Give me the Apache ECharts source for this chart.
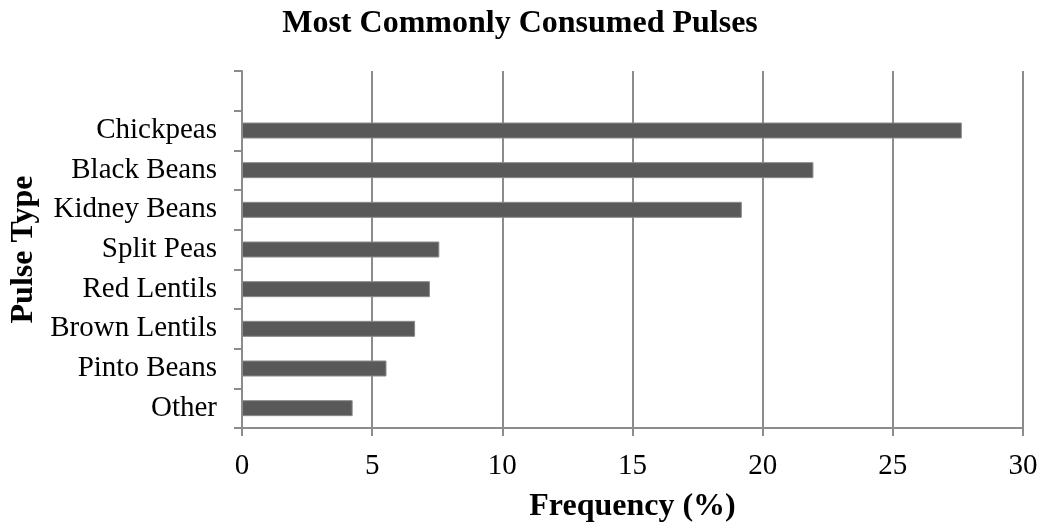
<!DOCTYPE html>
<html><head><meta charset="utf-8">
<script src="https://cdn.jsdelivr.net/npm/echarts@6/dist/echarts.min.js"></script>
<style>html,body{margin:0;padding:0;background:#fff}#c{width:1044px;height:527px}</style>
</head><body><div id="c"></div>
<script>
const categories = ['Other', 'Pinto Beans', 'Brown Lentils', 'Red Lentils', 'Split Peas', 'Kidney Beans', 'Black Beans', 'Chickpeas', ''];
const frequency = [4.25, 5.55, 6.65, 7.22, 7.58, 19.2, 21.95, 27.65, '-'];
const xTicks = [0, 5, 10, 15, 20, 25, 30];

const font = '"Liberation Serif", "Times New Roman", serif';
const chart = echarts.init(document.getElementById('c'));
chart.setOption({
  animation: false,
  title: {
    text: 'Most Commonly Consumed Pulses',
    left: 515, top: 3, textAlign: 'center',
    textStyle: { fontFamily: font, fontWeight: 'bold', fontSize: 32, color: '#000' }
  },
  grid: { left: 242, right: 21, top: 71, bottom: 99, containLabel: false, outerBoundsMode: 'none' },
  xAxis: {
    type: 'value', min: xTicks[0], max: xTicks[xTicks.length - 1], interval: 5,
    name: 'Frequency (%)', nameLocation: 'middle', nameGap: 63,
    nameTextStyle: { fontFamily: font, fontWeight: 'bold', fontSize: 32, color: '#000' },
    axisLine: { show: true, lineStyle: { color: '#8c8c8c', width: 2 } },
    axisTick: { show: true, length: 8, lineStyle: { color: '#8c8c8c', width: 2 } },
    axisLabel: { fontFamily: font, fontSize: 29, color: '#000', margin: 24 },
    splitLine: { show: true, lineStyle: { color: '#8c8c8c', width: 2 } }
  },
  yAxis: {
    type: 'category', data: categories,
    name: 'Pulse Type', nameLocation: 'middle', nameGap: 201, nameRotate: 90,
    nameTextStyle: { fontFamily: font, fontWeight: 'bold', fontSize: 32, color: '#000' },
    axisLine: { show: true, lineStyle: { color: '#8c8c8c', width: 2 } },
    axisTick: { show: true, length: 8, alignWithLabel: false, lineStyle: { color: '#8c8c8c', width: 2 } },
    axisLabel: { fontFamily: font, fontSize: 29, color: '#000', margin: 25 },
    splitLine: { show: false }
  },
  series: [{
    type: 'bar', data: frequency, barWidth: 16,
    itemStyle: { color: '#595959', borderColor: '#8a8a8a', borderWidth: 1 }
  }]
});
</script></body></html>
